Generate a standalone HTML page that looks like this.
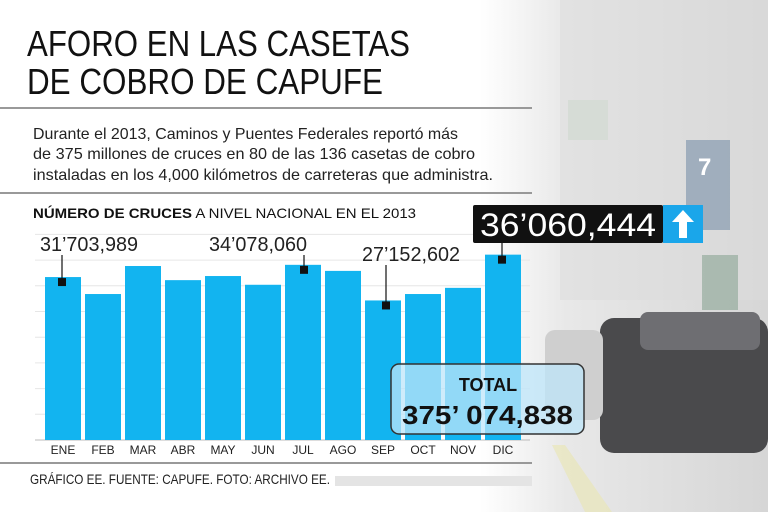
<!DOCTYPE html>
<html><head><meta charset="utf-8"><style>
html,body{margin:0;padding:0;width:768px;height:512px;overflow:hidden;background:#fff}
svg{display:block;font-family:"Liberation Sans",sans-serif}
</style></head><body>
<svg width="768" height="512" viewBox="0 0 768 512">
<defs>
<linearGradient id="fade" x1="0" x2="1" y1="0" y2="0">
<stop offset="0" stop-color="#fff" stop-opacity="1"/>
<stop offset="0.3" stop-color="#e8e8e8" stop-opacity="1"/>
<stop offset="1" stop-color="#d6d6d6"/>
</linearGradient>
</defs>
<g>
<rect x="480" y="0" width="288" height="512" fill="url(#fade)"/>
<rect x="560" y="0" width="208" height="300" fill="#dcdcdc" opacity="0.5"/>
<rect x="686" y="140" width="44" height="90" fill="#7890a8" opacity="0.6"/>
<text x="698" y="175" font-size="24" fill="#fff" font-weight="bold">7</text>
<rect x="568" y="100" width="40" height="40" fill="#cfd8cf" opacity="0.6"/>
<rect x="702" y="255" width="36" height="55" fill="#7a9a85" opacity="0.5"/>
<rect x="600" y="318" width="168" height="135" rx="14" fill="#4a4a4c"/>
<rect x="640" y="312" width="120" height="38" rx="8" fill="#6e6e72"/>
<rect x="545" y="330" width="58" height="90" rx="10" fill="#cfcfcf"/>
<polygon points="585,512 612,512 565,445 552,445" fill="#eae6b0" opacity="0.6"/>
</g>
<g fill="#111">
<text x="27" y="56" font-size="36" textLength="383" lengthAdjust="spacingAndGlyphs">AFORO EN LAS CASETAS</text>
<text x="27" y="94" font-size="36" textLength="356" lengthAdjust="spacingAndGlyphs">DE COBRO DE CAPUFE</text>
</g>
<line x1="0" y1="108" x2="532" y2="108" stroke="#999" stroke-width="2"/>
<g fill="#222" font-size="16">
<text x="33" y="139" textLength="425" lengthAdjust="spacingAndGlyphs">Durante el 2013, Caminos y Puentes Federales reportó más</text>
<text x="33" y="159" textLength="442" lengthAdjust="spacingAndGlyphs">de 375 millones de cruces en 80 de las 136 casetas de cobro</text>
<text x="33" y="180" textLength="460" lengthAdjust="spacingAndGlyphs">instaladas en los 4,000 kilómetros de carreteras que administra.</text>
</g>
<line x1="0" y1="193" x2="532" y2="193" stroke="#999" stroke-width="2"/>
<text x="33" y="218" font-size="14" fill="#111" textLength="383" lengthAdjust="spacingAndGlyphs"><tspan font-weight="bold">NÚMERO DE CRUCES</tspan> A NIVEL NACIONAL EN EL 2013</text>
<g id="chart"></g>
<line x1="0" y1="463" x2="532" y2="463" stroke="#999" stroke-width="2"/>
<text x="30" y="484" font-size="14" fill="#222" textLength="300" lengthAdjust="spacingAndGlyphs">GRÁFICO EE. FUENTE: CAPUFE. FOTO: ARCHIVO EE.</text>
<rect x="335" y="476" width="197" height="10" fill="#e4e4e4"/>
</svg>
<script>
const months=["ENE","FEB","MAR","ABR","MAY","JUN","JUL","AGO","SEP","OCT","NOV","DIC"];
const values=[31.70,28.4,33.85,31.1,31.9,30.2,34.08,32.9,27.15,28.4,29.6,36.06];
const gridTicks=[5,10,15,20,25,30,35,40];
const annotatedLabels=["31’703,989","34’078,060","27’152,602"];
const annotatedIdx=[0,6,8];
const highlightIdx=11;
const highlightLabel="36’060,444";
const totalLabel="375’ 074,838";

const NS="http://www.w3.org/2000/svg";
const g=document.getElementById("chart");
const y0=440,k=5.14,x0=45,step=40,bw=36;
const y=v=>y0-v*k;
const x=i=>x0+i*step;
function mk(t,a,p){const e=document.createElementNS(NS,t);for(const n in a)e.setAttribute(n,a[n]);(p||g).appendChild(e);return e;}
gridTicks.forEach(t=>{
 const l=mk("line",{x1:35,x2:530,y1:y(t),y2:y(t),stroke:"#e6e6e6","stroke-width":1});
 
 
});
const ax=mk("line",{x1:35,x2:530,y1:y0,y2:y0,stroke:"#bbb","stroke-width":1});


values.forEach((v,i)=>{
 const r=mk("rect",{x:x(i),y:y(v),width:bw,height:y0-y(v),fill:"#12b4f0"});
 
 
 const t=mk("text",{x:x(i)+bw/2,y:454,"font-size":12,fill:"#222","text-anchor":"middle"});
 t.textContent=months[i];
 
 
});
const labelPos=[[40,251,62],[209,251,304],[362,261,386]];
annotatedIdx.forEach((i,j)=>{
 const mx=labelPos[j][2];
 const ln=mk("line",{x1:mx,x2:mx,y1:labelPos[j][1]+4,y2:y(values[i])+4,stroke:"#111","stroke-width":1.2});
 
 
 const m=mk("rect",{x:mx-4,y:y(values[i])+1,width:8,height:8,fill:"#111"});
 
 
 const t=mk("text",{x:labelPos[j][0],y:labelPos[j][1],"font-size":20,fill:"#222",textLength:98,lengthAdjust:"spacingAndGlyphs"});
 t.textContent=annotatedLabels[j];
 
 
});
const hx=x(highlightIdx)+bw/2-1;
const hl=mk("line",{x1:hx,x2:hx,y1:243,y2:y(values[highlightIdx])+4,stroke:"#111","stroke-width":1.2});


const hm=mk("rect",{x:hx-4,y:y(values[highlightIdx])+1,width:8,height:8,fill:"#111"});


const hb=mk("rect",{x:473,y:205,width:190,height:38,fill:"#111",rx:2});


const ht=mk("text",{x:480,y:236,"font-size":32,fill:"#fff",textLength:176,lengthAdjust:"spacingAndGlyphs"});
ht.textContent=highlightLabel;


const ab=mk("rect",{x:663,y:205,width:40,height:38,fill:"#1aa6ea"});


const ar=mk("path",{d:"M683 210 L694 222 L687 222 L687 238 L679 238 L679 222 L672 222 Z",fill:"#fff"});


const tb=mk("rect",{x:391,y:364,width:193,height:70,rx:8,fill:"rgba(190,230,250,0.75)",stroke:"#333","stroke-width":1.5});


const tt=mk("text",{x:488,y:391,"font-size":18,"font-weight":"bold",fill:"#111","text-anchor":"middle"});
tt.textContent="TOTAL";


const tv=mk("text",{x:402,y:424,"font-size":26,"font-weight":"bold",fill:"#111",textLength:171,lengthAdjust:"spacingAndGlyphs"});
tv.textContent=totalLabel;


</script>
</body></html>
